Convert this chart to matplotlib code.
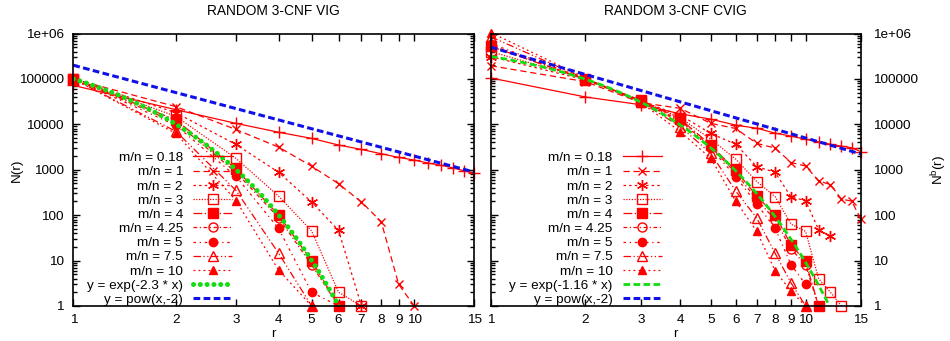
import matplotlib
matplotlib.use("Agg")
import matplotlib.pyplot as plt
from matplotlib.ticker import FixedLocator, NullFormatter, LogLocator
import numpy as np

plt.rcParams['font.family'] = ['Liberation Sans', 'DejaVu Sans']
plt.rcParams['mathtext.default'] = 'regular'
plt.rcParams['font.size'] = 9.7

# ---------------- data ----------------
r_all = [1, 2, 3, 4, 5, 6, 7, 8, 9, 10, 11, 12, 13, 14, 15]
ratios = ["0.18", "1", "2", "3", "4", "4.25", "5", "7.5", "10"]

# VIG: N(r)
vig_018 = [72000, 21000, 10500, 6700, 4900, 3500, 2800, 2250, 1870, 1630, 1400, 1250, 1100, 950, 830]
vig_1 = [100000, 24500, 7700, 3150, 1200, 490, 195, 72, 3, 1]
vig_2 = [100000, 18000, 3600, 880, 195, 46, 1]
vig_3 = [100000, 15000, 1780, 262, 45, 2, 1]
vig_4 = [100000, 12500, 1040, 100, 10, 1]
vig_425 = [100000, 11000, 880, 88, 8, 1]
vig_5 = [100000, 9500, 715, 51, 2, 1]
vig_75 = [100000, 7000, 350, 14.5, 1]
vig_10 = [100000, 6300, 210, 6.2, 1]

# CVIG: N^b(r)
cvig_018 = [105000, 40000, 27000, 17000, 13000, 9600, 8200, 6400, 5500, 4700, 4100, 3650, 3300, 3050, 2500]
cvig_1 = [195000, 87000, 30000, 22500, 10500, 8100, 3800, 3000, 1440, 1210, 570, 470, 225, 205, 81]
cvig_2 = [310000, 95000, 32000, 16000, 6300, 3650, 1170, 880, 250, 210, 48, 34]
cvig_3 = [400000, 100000, 33000, 14000, 4700, 1720, 550, 257, 63, 44, 4, 2, 1]
cvig_4 = [520000, 97000, 34000, 13000, 3500, 970, 265, 100, 22, 9.6, 1]
cvig_425 = [540000, 98000, 33000, 12000, 3200, 850, 220, 80, 18, 8, 1]
cvig_5 = [600000, 100000, 33000, 11000, 3000, 710, 175, 52, 8, 3]
cvig_75 = [850000, 100000, 31000, 8900, 2300, 340, 86, 14.6, 3.2, 1]
cvig_10 = [1050000, 105000, 30000, 6900, 1780, 205, 44, 6, 2.1, 1]

vig_series = [vig_018, vig_1, vig_2, vig_3, vig_4, vig_425, vig_5, vig_75, vig_10]
cvig_series = [cvig_018, cvig_1, cvig_2, cvig_3, cvig_4, cvig_425, cvig_5, cvig_75, cvig_10]

# fitted curves: y = A * exp(k * x), y = B * x^p
vig_exp_a, vig_exp_k = 1.0e6, -2.3
cvig_exp_a, cvig_exp_k = 1.0e6, -1.16
vig_pow_b, cvig_pow_b, pow_p = 2.0e5, 5.0e5, -2

x_ticks = [1, 2, 3, 4, 5, 6, 7, 8, 9, 10, 15]
y_ticks = [1, 10, 100, 1000, 10000, 100000, 1000000]
y_ticklabels = ["1", "10", "100", "1000", "10000", "100000", "1e+06"]

# ---------------- styles ----------------
red = "#ff0000"
styles = [
    dict(marker="+", ms=8, mfc=red, ls="-"),
    dict(marker="x", ms=6, mfc=red, ls=(0, (5, 3))),
    dict(marker=(6, 2, 0), ms=8, mfc=red, ls=(0, (2, 2.5))),
    dict(marker="s", ms=6.5, mfc="none", ls=(0, (1, 1.2))),
    dict(marker="s", ms=6.5, mfc=red, ls=(0, (7, 2, 1, 2))),
    dict(marker="o", ms=6.5, mfc="none", ls=(0, (3, 2, 1, 2))),
    dict(marker="o", ms=6, mfc=red, ls=(0, (2, 3, 1, 3))),
    dict(marker="^", ms=6.5, mfc="none", ls=(0, (6, 2, 1, 2, 1, 2))),
    dict(marker="^", ms=6, mfc=red, ls=(0, (1.5, 2.5))),
]

fig = plt.figure(figsize=(9.5, 3.41), dpi=100)
ax1 = fig.add_axes([73.3 / 950, 1 - 306 / 341, (474.3 - 73.3) / 950, (306 - 33.5) / 341])
ax2 = fig.add_axes([490.7 / 950, 1 - 306 / 341, (861 - 490.7) / 950, (306 - 33.5) / 341])

xs = np.geomspace(1, 15, 300)


def draw_panel(ax, series, exp_a, exp_k, pow_b, title, green_style, leg_x):
    handles = []
    for vals, lab, st in zip(series, ratios, styles):
        h, = ax.plot(r_all[:len(vals)], vals, color=red, lw=0.9, ls=st["ls"],
                     marker=st["marker"], ms=st["ms"], mfc=st["mfc"], mec=red, mew=1.0,
                     clip_on=False, label="m/n = " + lab)
        handles.append(h)
    g, = ax.plot(xs, exp_a * np.exp(exp_k * xs), color="#11dd11", **green_style,
                 label="y = exp(%s * x)" % exp_k)
    b, = ax.plot(xs, pow_b * xs ** pow_p, color="#1010e8", lw=2.2, ls=(0, (2.2, 1.1)),
                 label="y = pow(x,-2)")
    handles += [g, b]

    ax.set_xscale("log")
    ax.set_yscale("log")
    ax.set_xlim(1, 15)
    ax.set_ylim(1, 1e6)
    ax.xaxis.set_major_locator(FixedLocator(x_ticks))
    ax.set_xticklabels([str(t) for t in x_ticks])
    ax.xaxis.set_minor_locator(FixedLocator([]))
    ax.yaxis.set_major_locator(FixedLocator(y_ticks))
    ax.yaxis.set_minor_locator(LogLocator(base=10, subs=np.arange(2, 10)))
    ax.yaxis.set_minor_formatter(NullFormatter())
    ax.tick_params(which="both", direction="in", top=True, right=True, width=1.0)
    ax.tick_params(which="major", length=5)
    ax.tick_params(which="minor", length=3)
    ax.tick_params(axis="x", pad=6)
    for sp in ax.spines.values():
        sp.set_linewidth(1.2)
    ax.set_title(title, pad=13, fontsize=9.9)
    ax.set_xlabel("r", labelpad=1)

    ax.legend(handles=handles, loc="lower right", bbox_to_anchor=(leg_x, 0.0),
              markerfirst=False, frameon=False, handlelength=2.9, handletextpad=0.75,
              labelspacing=0.13, borderpad=0, borderaxespad=0.0, fontsize=9.7)


draw_panel(ax1, vig_series, vig_exp_a, vig_exp_k, vig_pow_b, "RANDOM 3-CNF VIG",
           dict(lw=3.6, ls=(0, (0.01, 1.35)), dash_capstyle="round"), 0.396)
draw_panel(ax2, cvig_series, cvig_exp_a, cvig_exp_k, cvig_pow_b, "RANDOM 3-CNF CVIG",
           dict(lw=2.0, ls=(0, (2.4, 1.2))), 0.462)

ax1.set_yticklabels(y_ticklabels)
ax1.tick_params(axis="y", pad=7)
ax1.set_ylabel("N(r)", labelpad=-3)

ax2.yaxis.tick_right()
ax2.yaxis.set_label_position("right")
ax2.tick_params(which="both", left=True, right=True)
ax2.set_yticklabels(y_ticklabels)
ax2.tick_params(axis="y", pad=9)
ax2.set_ylabel("N$^{b}$(r)", labelpad=8)

fig.savefig("out.png", dpi=100)
